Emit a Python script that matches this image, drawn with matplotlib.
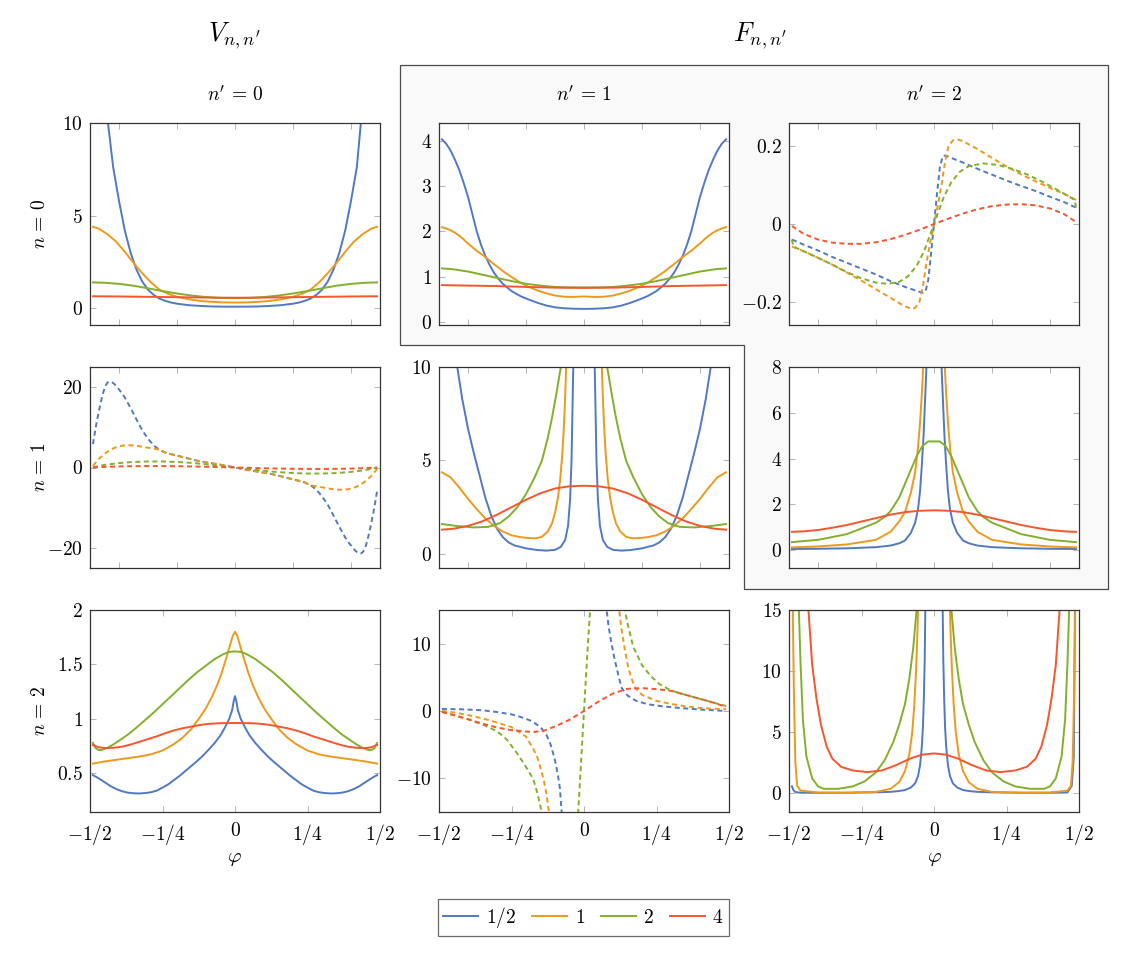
import matplotlib
matplotlib.use("Agg")
import matplotlib.pyplot as plt
import numpy as np
from matplotlib.patches import Polygon
from matplotlib.lines import Line2D

plt.rcParams["mathtext.fontset"] = "cm"
plt.rcParams["font.family"] = ["DejaVu Serif"]

nan = float("nan")

BLUE = "#5079c2"
ORANGE = "#eb9a1e"
GREEN = "#82b02c"
RED = "#f5562e"

# ---- row 0, col 0 : V, n=0, n'=0 (solid)
A_PHI_BLUE = [-0.46, -0.438, -0.42, -0.40, -0.38, -0.36, -0.34, -0.32, -0.30, -0.28, -0.26, -0.24, -0.22, -0.20, -0.16, -0.12, -0.08, -0.04, 0.0,
              0.04, 0.08, 0.12, 0.16, 0.20, 0.22, 0.24, 0.26, 0.28, 0.30, 0.32, 0.34, 0.36, 0.38, 0.40, 0.42, 0.434, 0.46]
A_BLUE = [14.0, 10.0, 7.6, 5.8, 4.2, 3.0, 2.1, 1.45, 1.0, 0.72, 0.52, 0.4, 0.31, 0.25, 0.17, 0.13, 0.1, 0.09, 0.09,
          0.09, 0.1, 0.13, 0.17, 0.25, 0.31, 0.4, 0.52, 0.72, 1.0, 1.45, 2.1, 3.0, 4.2, 5.8, 7.6, 10.0, 14.0]
A_PHI_ORANGE = [-0.49, -0.47, -0.44, -0.41, -0.38, -0.35, -0.32, -0.29, -0.26, -0.23, -0.20, -0.16, -0.12, -0.08, -0.04, 0.0,
                0.04, 0.08, 0.12, 0.16, 0.20, 0.23, 0.26, 0.29, 0.32, 0.35, 0.38, 0.41, 0.44, 0.47, 0.49]
A_ORANGE = [4.4, 4.3, 4.0, 3.6, 3.05, 2.45, 1.9, 1.4, 1.0, 0.78, 0.62, 0.49, 0.4, 0.35, 0.32, 0.31,
            0.32, 0.35, 0.4, 0.49, 0.62, 0.78, 1.0, 1.4, 1.9, 2.45, 3.05, 3.6, 4.0, 4.3, 4.4]
A_PHI_GREEN = [-0.49, -0.45, -0.4, -0.35, -0.3, -0.25, -0.2, -0.15, -0.1, -0.05, 0.0, 0.05, 0.1, 0.15, 0.2, 0.25, 0.3, 0.35, 0.4, 0.45, 0.49]
A_GREEN = [1.4, 1.38, 1.32, 1.22, 1.08, 0.93, 0.8, 0.69, 0.61, 0.56, 0.55, 0.56, 0.61, 0.69, 0.8, 0.93, 1.08, 1.22, 1.32, 1.38, 1.4]
A_PHI_RED = [-0.49, -0.4, -0.3, -0.2, -0.1, 0.0, 0.1, 0.2, 0.3, 0.4, 0.49]
A_RED = [0.65, 0.64, 0.62, 0.6, 0.58, 0.57, 0.58, 0.6, 0.62, 0.64, 0.65]

# ---- row 0, col 1 : F, n=0, n'=1 (solid)
B_PHI = [-0.49, -0.475, -0.46, -0.445, -0.43, -0.415, -0.40, -0.385, -0.37, -0.355, -0.34, -0.325, -0.31, -0.295, -0.28, -0.25,
         -0.22, -0.19, -0.16, -0.13, -0.10, -0.07, -0.04, 0.0, 0.04, 0.07, 0.10, 0.13, 0.16, 0.19, 0.22, 0.25, 0.28, 0.295,
         0.31, 0.325, 0.34, 0.355, 0.37, 0.385, 0.40, 0.415, 0.43, 0.445, 0.46, 0.475, 0.49]
B_BLUE = [4.03, 3.93, 3.78, 3.58, 3.35, 3.07, 2.76, 2.38, 2.0, 1.7, 1.45, 1.25, 1.08, 0.95, 0.84, 0.68,
          0.57, 0.49, 0.42, 0.36, 0.32, 0.3, 0.29, 0.285, 0.29, 0.3, 0.32, 0.36, 0.42, 0.49, 0.57, 0.68, 0.84, 0.95,
          1.08, 1.25, 1.45, 1.7, 2.0, 2.38, 2.76, 3.07, 3.35, 3.58, 3.78, 3.93, 4.03]
B_ORANGE = [2.09, 2.06, 2.02, 1.97, 1.9, 1.82, 1.73, 1.65, 1.57, 1.5, 1.43, 1.35, 1.27, 1.2, 1.12, 0.99,
            0.87, 0.77, 0.69, 0.63, 0.58, 0.555, 0.55, 0.56, 0.55, 0.555, 0.58, 0.63, 0.69, 0.77, 0.87, 0.99, 1.12, 1.2,
            1.27, 1.35, 1.43, 1.5, 1.57, 1.65, 1.73, 1.82, 1.9, 1.97, 2.02, 2.06, 2.09]
B_PHI_GREEN = [-0.49, -0.45, -0.4, -0.35, -0.3, -0.25, -0.2, -0.15, -0.1, -0.05, 0.0, 0.05, 0.1, 0.15, 0.2, 0.25, 0.3, 0.35, 0.4, 0.45, 0.49]
B_GREEN = [1.18, 1.16, 1.11, 1.04, 0.97, 0.9, 0.84, 0.8, 0.77, 0.76, 0.76, 0.76, 0.77, 0.8, 0.84, 0.9, 0.97, 1.04, 1.11, 1.16, 1.18]
B_PHI_RED = [-0.49, -0.4, -0.3, -0.2, -0.1, 0.0, 0.1, 0.2, 0.3, 0.4, 0.49]
B_RED = [0.81, 0.8, 0.79, 0.77, 0.755, 0.75, 0.755, 0.77, 0.79, 0.8, 0.81]

# ---- row 0, col 2 : F, n=0, n'=2 (dashed)
C_PHI_BLUE = [-0.49, -0.45, -0.4, -0.35, -0.3, -0.25, -0.2, -0.15, -0.1, -0.06, -0.04, -0.03, -0.02, -0.012, 0.0,
              0.012, 0.02, 0.03, 0.04, 0.06, 0.1, 0.15, 0.2, 0.25, 0.3, 0.35, 0.4, 0.45, 0.49]
C_BLUE = [-0.04, -0.053, -0.068, -0.085, -0.1, -0.115, -0.13, -0.147, -0.162, -0.172, -0.177, -0.175, -0.145, -0.09, 0.0,
          0.09, 0.145, 0.175, 0.176, 0.17, 0.158, 0.142, 0.127, 0.112, 0.098, 0.085, 0.07, 0.056, 0.042]
C_PHI_ORANGE = [-0.49, -0.45, -0.4, -0.35, -0.3, -0.25, -0.2, -0.15, -0.11, -0.08, -0.065, -0.05, -0.038, -0.028, -0.015, 0.0,
                0.015, 0.028, 0.038, 0.05, 0.065, 0.08, 0.1, 0.15, 0.2, 0.25, 0.3, 0.35, 0.4, 0.45, 0.49]
C_ORANGE = [-0.058, -0.07, -0.087, -0.105, -0.125, -0.146, -0.168, -0.19, -0.208, -0.218, -0.216, -0.2, -0.16, -0.11, -0.055, 0.0,
            0.055, 0.11, 0.16, 0.2, 0.215, 0.218, 0.213, 0.193, 0.17, 0.148, 0.128, 0.11, 0.093, 0.077, 0.062]
C_PHI_GREEN = [-0.49, -0.485, -0.45, -0.4, -0.35, -0.3, -0.25, -0.2, -0.16, -0.12, -0.09, -0.06, -0.034, 0.0,
               0.034, 0.06, 0.09, 0.12, 0.17, 0.22, 0.27, 0.32, 0.37, 0.42, 0.46, 0.485, 0.49]
C_GREEN = [-0.04, -0.058, -0.07, -0.087, -0.105, -0.124, -0.14, -0.151, -0.154, -0.149, -0.135, -0.108, -0.07, 0.0,
           0.07, 0.108, 0.135, 0.149, 0.156, 0.152, 0.142, 0.128, 0.11, 0.09, 0.073, 0.062, 0.042]
C_PHI_RED = [-0.49, -0.45, -0.4, -0.35, -0.3, -0.25, -0.2, -0.15, -0.1, -0.05, 0.0, 0.05, 0.1, 0.15, 0.2, 0.25, 0.3, 0.35, 0.4, 0.45, 0.49]
C_RED = [-0.005, -0.025, -0.04, -0.048, -0.051, -0.051, -0.047, -0.039, -0.028, -0.015, 0.0,
         0.014, 0.027, 0.038, 0.046, 0.05, 0.051, 0.048, 0.04, 0.025, 0.005]

# ---- row 1, col 0 : V, n=1, n'=0 (dashed)
D_PHI = [-0.49, -0.485, -0.477, -0.468, -0.46, -0.453, -0.446, -0.44, -0.433, -0.426, -0.418, -0.41, -0.40, -0.39, -0.38, -0.37,
         -0.36, -0.35, -0.34, -0.33, -0.32, -0.31, -0.30, -0.29, -0.28, -0.27, -0.26, -0.24, -0.22, -0.20, -0.17, -0.14, -0.11,
         -0.08, -0.05, -0.025, 0.0, 0.025, 0.05, 0.08, 0.11, 0.14, 0.17, 0.20, 0.22, 0.24, 0.26, 0.27, 0.28, 0.29, 0.30,
         0.31, 0.32, 0.33, 0.34, 0.35, 0.36, 0.37, 0.38, 0.39, 0.40, 0.41, 0.418, 0.426, 0.433, 0.44, 0.446, 0.453, 0.46,
         0.468, 0.477, 0.485, 0.49]
D_BLUE = [5.8, 8.0, 11.3, 14.5, 17.1, 19.0, 20.4, 21.1, 21.4, 21.3, 20.9, 20.3, 19.4, 18.5, 17.4, 16.1,
          14.8, 13.4, 12.0, 10.6, 9.3, 8.2, 7.2, 6.3, 5.5, 4.9, 4.4, 3.7, 3.3, 2.95, 2.4, 1.85, 1.4,
          1.05, 0.7, 0.35, 0.0, -0.35, -0.7, -1.05, -1.4, -1.85, -2.4, -2.95, -3.3, -3.7, -4.4, -4.9, -5.5, -6.3, -7.2,
          -8.2, -9.3, -10.6, -12.0, -13.4, -14.8, -16.1, -17.4, -18.5, -19.4, -20.3, -20.9, -21.3, -21.4, -21.1, -20.4, -19.0, -17.1,
          -14.5, -11.3, -8.0, -5.8]
D_PHI_ORANGE = [-0.49, -0.47, -0.45, -0.43, -0.41, -0.39, -0.37, -0.35, -0.33, -0.31, -0.29, -0.27, -0.26, -0.24, -0.22, -0.20,
                -0.17, -0.14, -0.11, -0.08, -0.05, -0.025, 0.0, 0.025, 0.05, 0.08, 0.11, 0.14, 0.17, 0.20, 0.22, 0.24, 0.26, 0.27,
                0.29, 0.31, 0.33, 0.35, 0.37, 0.39, 0.41, 0.43, 0.45, 0.47, 0.49]
D_ORANGE = [0.4, 2.1, 3.4, 4.4, 5.05, 5.4, 5.55, 5.5, 5.3, 5.05, 4.8, 4.55, 4.4, 3.7, 3.3, 2.95,
            2.4, 1.85, 1.4, 1.05, 0.7, 0.35, 0.0, -0.35, -0.7, -1.05, -1.4, -1.85, -2.4, -2.95, -3.3, -3.7, -4.4, -4.55,
            -4.8, -5.05, -5.3, -5.5, -5.55, -5.4, -5.05, -4.4, -3.4, -2.1, -0.4]
D_PHI_SMALL = [-0.49, -0.45, -0.4, -0.35, -0.3, -0.25, -0.2, -0.15, -0.1, -0.05, 0.0, 0.05, 0.1, 0.15, 0.2, 0.25, 0.3, 0.35, 0.4, 0.45, 0.49]
D_GREEN = [0.05, 0.65, 1.1, 1.38, 1.5, 1.5, 1.38, 1.15, 0.82, 0.42, 0.0, -0.42, -0.82, -1.15, -1.38, -1.5, -1.5, -1.38, -1.1, -0.65, -0.05]
D_RED = [0.0, 0.15, 0.27, 0.33, 0.36, 0.35, 0.32, 0.26, 0.18, 0.09, 0.0, -0.09, -0.18, -0.26, -0.32, -0.35, -0.36, -0.33, -0.27, -0.15, 0.0]

# ---- row 1, col 1 : F, n=1, n'=1 (solid)
E_PHI_BLUE = [-0.46, -0.437, -0.42, -0.4, -0.38, -0.36, -0.34, -0.32, -0.3, -0.28, -0.26, -0.24, -0.2, -0.16, -0.13, -0.1, -0.08, -0.065,
              -0.055, -0.048, -0.043, -0.04, -0.037, -0.034, 0.0, 0.034, 0.037, 0.04, 0.043, 0.048, 0.055, 0.065, 0.08, 0.1, 0.13,
              0.16, 0.2, 0.24, 0.26, 0.28, 0.3, 0.32, 0.34, 0.36, 0.38, 0.4, 0.42, 0.437, 0.46]
E_BLUE = [14.0, 10.0, 8.3, 6.7, 5.4, 4.2, 3.0, 2.05, 1.35, 0.9, 0.62, 0.46, 0.3, 0.21, 0.18, 0.22, 0.38, 0.75,
          1.5, 2.9, 5.0, 7.5, 10.0, 13.0, 60.0, 13.0, 10.0, 7.5, 5.0, 2.9, 1.5, 0.75, 0.38, 0.22, 0.18,
          0.21, 0.3, 0.46, 0.62, 0.9, 1.35, 2.05, 3.0, 4.2, 5.4, 6.7, 8.3, 10.0, 14.0]
E_PHI_ORANGE = [-0.49, -0.46, -0.43, -0.40, -0.37, -0.34, -0.31, -0.28, -0.25, -0.22, -0.19, -0.165, -0.145, -0.125, -0.11, -0.1,
                -0.09, -0.082, -0.075, -0.07, -0.066, -0.063, -0.06, 0.0, 0.06, 0.063, 0.066, 0.07, 0.075, 0.082, 0.09, 0.1, 0.11,
                0.125, 0.145, 0.165, 0.19, 0.22, 0.25, 0.28, 0.31, 0.34, 0.37, 0.40, 0.43, 0.46, 0.49]
E_ORANGE = [4.37, 4.1, 3.55, 2.95, 2.4, 1.9, 1.5, 1.2, 1.0, 0.9, 0.85, 0.84, 0.92, 1.2, 1.65, 2.2,
            3.0, 4.0, 5.3, 6.6, 8.0, 9.3, 10.8, 60.0, 10.8, 9.3, 8.0, 6.6, 5.3, 4.0, 3.0, 2.2, 1.65,
            1.2, 0.92, 0.84, 0.85, 0.9, 1.0, 1.2, 1.5, 1.9, 2.4, 2.95, 3.55, 4.1, 4.37]
E_PHI_GREEN = [-0.49, -0.44, -0.38, -0.33, -0.29, -0.26, -0.23, -0.2, -0.17, -0.145, -0.125, -0.11, -0.095, -0.08, -0.07, 0.0,
               0.07, 0.08, 0.095, 0.11, 0.125, 0.145, 0.17, 0.2, 0.23, 0.26, 0.29, 0.33, 0.38, 0.44, 0.49]
E_GREEN = [1.6, 1.5, 1.42, 1.45, 1.65, 2.0, 2.5, 3.2, 4.1, 5.0, 6.2, 7.3, 8.6, 10.0, 11.5, 60.0,
           11.5, 10.0, 8.6, 7.3, 6.2, 5.0, 4.1, 3.2, 2.5, 2.0, 1.65, 1.45, 1.42, 1.5, 1.6]
E_PHI_RED = [-0.49, -0.45, -0.4, -0.35, -0.3, -0.25, -0.2, -0.15, -0.1, -0.05, 0.0, 0.05, 0.1, 0.15, 0.2, 0.25, 0.3, 0.35, 0.4, 0.45, 0.49]
E_RED = [1.3, 1.35, 1.5, 1.75, 2.1, 2.5, 2.9, 3.25, 3.5, 3.62, 3.65, 3.62, 3.5, 3.25, 2.9, 2.5, 2.1, 1.75, 1.5, 1.35, 1.3]

# ---- row 1, col 2 : F, n=1, n'=2 (solid)
F_PHI_BLUE = [-0.49, -0.4, -0.3, -0.2, -0.15, -0.12, -0.1, -0.08, -0.065, -0.055, -0.048, -0.042, -0.036, -0.031, -0.027, -0.024, 0.0,
              0.024, 0.027, 0.031, 0.036, 0.042, 0.048, 0.055, 0.065, 0.08, 0.1, 0.12, 0.15, 0.2, 0.3, 0.4, 0.49]
F_BLUE = [0.05, 0.06, 0.08, 0.13, 0.2, 0.3, 0.42, 0.75, 1.2, 1.8, 2.6, 3.7, 5.0, 6.5, 7.7, 8.8, 40.0,
          8.8, 7.7, 6.5, 5.0, 3.7, 2.6, 1.8, 1.2, 0.75, 0.42, 0.3, 0.2, 0.13, 0.08, 0.06, 0.05]
F_PHI_ORANGE = [-0.49, -0.4, -0.3, -0.2, -0.15, -0.12, -0.1, -0.08, -0.065, -0.055, -0.048, -0.042, -0.038, -0.034, 0.0,
                0.034, 0.038, 0.042, 0.048, 0.055, 0.065, 0.08, 0.1, 0.12, 0.15, 0.2, 0.3, 0.4, 0.49]
F_ORANGE = [0.12, 0.16, 0.25, 0.45, 0.8, 1.25, 1.67, 2.5, 3.4, 4.5, 5.6, 6.8, 7.8, 9.0, 40.0,
            9.0, 7.8, 6.8, 5.6, 4.5, 3.4, 2.5, 1.67, 1.25, 0.8, 0.45, 0.25, 0.16, 0.12]
F_PHI_GREEN = [-0.49, -0.4, -0.3, -0.25, -0.2, -0.17, -0.15, -0.12, -0.1, -0.08, -0.06, -0.04, -0.02, 0.0,
               0.02, 0.04, 0.06, 0.08, 0.1, 0.12, 0.15, 0.17, 0.2, 0.25, 0.3, 0.4, 0.49]
F_GREEN = [0.35, 0.45, 0.7, 0.95, 1.2, 1.45, 1.7, 2.3, 2.9, 3.5, 4.1, 4.55, 4.75, 4.75,
           4.75, 4.55, 4.1, 3.5, 2.9, 2.3, 1.7, 1.45, 1.2, 0.95, 0.7, 0.45, 0.35]
F_PHI_RED = [-0.49, -0.45, -0.4, -0.35, -0.3, -0.25, -0.2, -0.15, -0.1, -0.05, 0.0, 0.05, 0.1, 0.15, 0.2, 0.25, 0.3, 0.35, 0.4, 0.45, 0.49]
F_RED = [0.8, 0.82, 0.88, 0.98, 1.1, 1.25, 1.4, 1.55, 1.66, 1.72, 1.74, 1.72, 1.66, 1.55, 1.4, 1.25, 1.1, 0.98, 0.88, 0.82, 0.8]

# ---- row 2, col 0 : V, n=2, n'=0 (solid)
G_PHI_BLUE = [-0.49, -0.47, -0.45, -0.43, -0.41, -0.39, -0.37, -0.35, -0.33, -0.31, -0.29, -0.27, -0.25, -0.23, -0.21, -0.19,
              -0.17, -0.15, -0.13, -0.11, -0.09, -0.07, -0.05, -0.035, -0.02, -0.01, -0.004, 0.0,
              0.004, 0.01, 0.02, 0.035, 0.05, 0.07, 0.09, 0.11, 0.13, 0.15, 0.17, 0.19, 0.21, 0.23, 0.25, 0.27,
              0.29, 0.31, 0.33, 0.35, 0.37, 0.39, 0.41, 0.43, 0.45, 0.47, 0.49]
G_BLUE = [0.485, 0.455, 0.42, 0.385, 0.357, 0.337, 0.324, 0.318, 0.316, 0.32, 0.327, 0.342, 0.37, 0.4, 0.44, 0.48,
          0.525, 0.57, 0.615, 0.665, 0.72, 0.78, 0.85, 0.92, 1.0, 1.08, 1.17, 1.21,
          1.17, 1.08, 1.0, 0.92, 0.85, 0.78, 0.72, 0.665, 0.615, 0.57, 0.525, 0.48, 0.44, 0.4, 0.37, 0.342,
          0.327, 0.32, 0.316, 0.318, 0.324, 0.337, 0.357, 0.385, 0.42, 0.455, 0.485]
G_PHI_ORANGE = [-0.49, -0.45, -0.41, -0.37, -0.33, -0.29, -0.25, -0.21, -0.18, -0.15, -0.12, -0.1, -0.08, -0.06, -0.045, -0.03,
                -0.018, -0.008, 0.0, 0.008, 0.018, 0.03, 0.045, 0.06, 0.08, 0.1, 0.12, 0.15, 0.18, 0.21, 0.25, 0.29,
                0.33, 0.37, 0.41, 0.45, 0.49]
G_ORANGE = [0.59, 0.61, 0.625, 0.64, 0.655, 0.675, 0.71, 0.77, 0.83, 0.91, 1.02, 1.1, 1.2, 1.32, 1.43, 1.56,
            1.67, 1.76, 1.8, 1.76, 1.67, 1.56, 1.43, 1.32, 1.2, 1.1, 1.02, 0.91, 0.83, 0.77, 0.71, 0.675,
            0.655, 0.64, 0.625, 0.61, 0.59]
G_PHI_GREEN = [-0.49, -0.48, -0.47, -0.46, -0.44, -0.42, -0.4, -0.37, -0.34, -0.31, -0.28, -0.25, -0.22, -0.19, -0.16, -0.13,
               -0.1, -0.07, -0.04, -0.02, 0.0, 0.02, 0.04, 0.07, 0.1, 0.13, 0.16, 0.19, 0.22, 0.25, 0.28, 0.31,
               0.34, 0.37, 0.4, 0.42, 0.44, 0.46, 0.47, 0.48, 0.49]
G_GREEN = [0.78, 0.73, 0.715, 0.715, 0.735, 0.765, 0.8, 0.855, 0.92, 0.99, 1.06, 1.135, 1.21, 1.285, 1.36, 1.43,
           1.49, 1.55, 1.595, 1.615, 1.62, 1.615, 1.595, 1.55, 1.49, 1.43, 1.36, 1.285, 1.21, 1.135, 1.06, 0.99,
           0.92, 0.855, 0.8, 0.765, 0.735, 0.715, 0.715, 0.73, 0.78]
G_PHI_RED = [-0.49, -0.47, -0.45, -0.42, -0.39, -0.36, -0.33, -0.3, -0.27, -0.24, -0.21, -0.18, -0.15, -0.12, -0.09, -0.06, -0.03, 0.0,
             0.03, 0.06, 0.09, 0.12, 0.15, 0.18, 0.21, 0.24, 0.27, 0.3, 0.33, 0.36, 0.39, 0.42, 0.45, 0.47, 0.49]
G_RED = [0.76, 0.74, 0.733, 0.735, 0.745, 0.765, 0.79, 0.815, 0.84, 0.87, 0.895, 0.915, 0.93, 0.945, 0.955, 0.96, 0.962, 0.963,
         0.962, 0.96, 0.955, 0.945, 0.93, 0.915, 0.895, 0.87, 0.84, 0.815, 0.79, 0.765, 0.745, 0.735, 0.733, 0.74, 0.76]

# ---- row 2, col 1 : F, n=2, n'=1 (dashed)
H_PHI_BLUE = [-0.49, -0.42, -0.35, -0.3, -0.25, -0.21, -0.18, -0.15, -0.13, -0.115, -0.1, -0.09, -0.083, -0.077, -0.06, 0.0,
              0.06, 0.078, 0.085, 0.095, 0.105, 0.118, 0.13, 0.15, 0.18, 0.22, 0.27, 0.33, 0.39, 0.45, 0.49]
H_BLUE = [0.3, 0.25, 0.1, -0.15, -0.5, -1.0, -1.5, -2.4, -3.5, -5.0, -7.3, -9.5, -11.5, -15.0, -30.0, nan,
          30.0, 15.0, 12.5, 10.0, 7.8, 5.4, 3.4, 2.3, 1.5, 1.0, 0.7, 0.45, 0.25, 0.1, 0.0]
H_PHI_ORANGE = [-0.49, -0.45, -0.4, -0.35, -0.3, -0.25, -0.2, -0.175, -0.16, -0.14, -0.13, -0.121, -0.1, 0.0,
                0.1, 0.121, 0.13, 0.14, 0.15, 0.16, 0.175, 0.2, 0.25, 0.3, 0.35, 0.4, 0.45, 0.49]
H_ORANGE = [0.0, -0.2, -0.6, -1.1, -1.7, -2.4, -3.8, -5.6, -7.0, -10.0, -12.2, -15.0, -30.0, nan,
            30.0, 15.0, 12.0, 9.3, 7.0, 5.3, 3.5, 2.4, 1.5, 1.05, 0.7, 0.45, 0.32, 0.25]
H_PHI_GREEN = [-0.49, -0.45, -0.4, -0.35, -0.3, -0.267, -0.232, -0.2, -0.175, -0.16, -0.146, -0.1, -0.02, -0.01, 0.0,
               0.01, 0.021, 0.1, 0.141, 0.15, 0.17, 0.2, 0.23, 0.26, 0.3, 0.35, 0.4, 0.45, 0.49]
H_GREEN = [-0.15, -0.6, -1.25, -2.0, -3.0, -4.2, -6.2, -8.3, -10.1, -12.3, -15.0, -40.0, -15.0, -7.5, 0.0,
           7.5, 15.0, 40.0, 15.0, 13.0, 9.5, 6.8, 5.2, 4.0, 3.05, 2.4, 1.8, 1.2, 0.74]
H_PHI_RED = [-0.49, -0.45, -0.4, -0.35, -0.3, -0.25, -0.2, -0.17, -0.14, -0.1, -0.05, 0.0,
             0.05, 0.1, 0.15, 0.2, 0.25, 0.3, 0.35, 0.4, 0.45, 0.49]
H_RED = [-0.15, -0.6, -1.2, -1.9, -2.45, -2.85, -3.05, -3.1, -2.95, -2.3, -1.3, 0.0,
         1.4, 2.6, 3.3, 3.4, 3.25, 3.0, 2.4, 1.8, 1.2, 0.6]

# ---- row 2, col 2 : F, n=2, n'=2 (solid)
I_PHI_BLUE = [-0.49, -0.485, -0.478, -0.46, -0.4, -0.3, -0.2, -0.15, -0.12, -0.1, -0.08, -0.065, -0.055, -0.048, -0.042, -0.038,
              -0.035, -0.032, -0.03, -0.025, 0.0, 0.025, 0.03, 0.032, 0.035, 0.038, 0.042, 0.048, 0.055, 0.065, 0.08, 0.1,
              0.12, 0.15, 0.2, 0.3, 0.4, 0.46, 0.475, 0.482, 0.486, 0.49]
I_BLUE = [0.55, 0.25, 0.08, 0.03, 0.02, 0.03, 0.06, 0.1, 0.17, 0.25, 0.45, 0.8, 1.4, 2.3, 3.8, 5.5,
          7.8, 11.0, 15.0, 25.0, 60.0, 25.0, 15.0, 11.0, 7.8, 5.5, 3.8, 2.3, 1.4, 0.8, 0.45, 0.25,
          0.17, 0.1, 0.06, 0.03, 0.02, 0.05, 0.6, 3.0, 15.0, 30.0]
I_PHI_ORANGE = [-0.49, -0.487, -0.483, -0.478, -0.472, -0.46, -0.4, -0.3, -0.2, -0.15, -0.12, -0.1, -0.085, -0.075, -0.068, -0.062,
                -0.058, -0.055, 0.0, 0.055, 0.058, 0.062, 0.068, 0.075, 0.085, 0.1, 0.12, 0.15, 0.2, 0.3, 0.4, 0.46,
                0.472, 0.478, 0.483, 0.487, 0.49]
I_ORANGE = [20.0, 15.0, 8.0, 2.5, 0.6, 0.2, 0.05, 0.03, 0.1, 0.35, 0.9, 1.8, 3.2, 5.0, 7.2, 10.0,
            12.5, 15.0, 60.0, 15.0, 12.5, 10.0, 7.2, 5.0, 3.2, 1.8, 0.9, 0.35, 0.1, 0.03, 0.05, 0.2,
            0.6, 2.5, 8.0, 15.0, 20.0]
I_PHI_GREEN = [-0.49, -0.466, -0.46, -0.452, -0.44, -0.42, -0.4, -0.38, -0.33, -0.28, -0.24, -0.2, -0.17, -0.14, -0.12, -0.1,
               -0.085, -0.072, -0.06, 0.0, 0.06, 0.072, 0.085, 0.1, 0.12, 0.14, 0.17, 0.2, 0.24, 0.28, 0.33, 0.38,
               0.4, 0.42, 0.44, 0.452, 0.46, 0.466, 0.49]
I_GREEN = [40.0, 15.0, 10.5, 6.0, 3.0, 1.2, 0.55, 0.35, 0.35, 0.55, 0.95, 1.7, 2.7, 4.2, 5.6, 7.3,
           9.4, 11.8, 15.0, 60.0, 15.0, 11.8, 9.4, 7.3, 5.6, 4.2, 2.7, 1.7, 0.95, 0.55, 0.35, 0.35,
           0.55, 1.2, 3.0, 6.0, 10.5, 15.0, 40.0]
I_PHI_RED = [-0.46, -0.433, -0.42, -0.405, -0.39, -0.37, -0.35, -0.32, -0.28, -0.23, -0.18, -0.13, -0.08, -0.04, 0.0,
             0.04, 0.08, 0.13, 0.18, 0.23, 0.28, 0.32, 0.35, 0.37, 0.39, 0.405, 0.42, 0.433, 0.46]
I_RED = [30.0, 15.0, 10.5, 7.7, 5.6, 3.8, 2.8, 2.15, 1.85, 1.72, 1.85, 2.3, 2.85, 3.15, 3.25,
         3.15, 2.85, 2.3, 1.85, 1.72, 1.85, 2.15, 2.8, 3.8, 5.6, 7.7, 10.5, 15.0, 30.0]

LEGEND_LABELS = ["$1/2$", "$1$", "$2$", "$4$"]
COLORS = [BLUE, ORANGE, GREEN, RED]

PANELS = [
    # (row, col, curves, dashed, ylim, yticks, yticklabels)
    (0, 0, [(A_PHI_BLUE, A_BLUE), (A_PHI_ORANGE, A_ORANGE), (A_PHI_GREEN, A_GREEN), (A_PHI_RED, A_RED)], False,
     (-0.9, 10), [0, 5, 10], ["$0$", "$5$", "$10$"]),
    (0, 1, [(B_PHI, B_BLUE), (B_PHI, B_ORANGE), (B_PHI_GREEN, B_GREEN), (B_PHI_RED, B_RED)], False,
     (-0.07, 4.39), [0, 1, 2, 3, 4], ["$0$", "$1$", "$2$", "$3$", "$4$"]),
    (0, 2, [(C_PHI_BLUE, C_BLUE), (C_PHI_ORANGE, C_ORANGE), (C_PHI_GREEN, C_GREEN), (C_PHI_RED, C_RED)], True,
     (-0.26, 0.26), [-0.2, 0, 0.2], ["$-0.2$", "$0$", "$0.2$"]),
    (1, 0, [(D_PHI, D_BLUE), (D_PHI_ORANGE, D_ORANGE), (D_PHI_SMALL, D_GREEN), (D_PHI_SMALL, D_RED)], True,
     (-25, 25), [-20, 0, 20], ["$-20$", "$0$", "$20$"]),
    (1, 1, [(E_PHI_BLUE, E_BLUE), (E_PHI_ORANGE, E_ORANGE), (E_PHI_GREEN, E_GREEN), (E_PHI_RED, E_RED)], False,
     (-0.75, 10), [0, 5, 10], ["$0$", "$5$", "$10$"]),
    (1, 2, [(F_PHI_BLUE, F_BLUE), (F_PHI_ORANGE, F_ORANGE), (F_PHI_GREEN, F_GREEN), (F_PHI_RED, F_RED)], False,
     (-0.78, 8), [0, 2, 4, 6, 8], ["$0$", "$2$", "$4$", "$6$", "$8$"]),
    (2, 0, [(G_PHI_BLUE, G_BLUE), (G_PHI_ORANGE, G_ORANGE), (G_PHI_GREEN, G_GREEN), (G_PHI_RED, G_RED)], False,
     (0.146, 2), [0.5, 1, 1.5, 2], ["$0.5$", "$1$", "$1.5$", "$2$"]),
    (2, 1, [(H_PHI_BLUE, H_BLUE), (H_PHI_ORANGE, H_ORANGE), (H_PHI_GREEN, H_GREEN), (H_PHI_RED, H_RED)], True,
     (-15, 15), [-10, 0, 10], ["$-10$", "$0$", "$10$"]),
    (2, 2, [(I_PHI_BLUE, I_BLUE), (I_PHI_ORANGE, I_ORANGE), (I_PHI_GREEN, I_GREEN), (I_PHI_RED, I_RED)], False,
     (-1.55, 15), [0, 5, 10, 15], ["$0$", "$5$", "$10$", "$15$"]),
]

W, H = 1121, 957
COL_LEFT = [90, 439, 789]
AX_W = 290
ROW_TB = [(123, 325), (367, 568), (610, 812)]

fig = plt.figure(figsize=(W / 100, H / 100), dpi=100)

# light grey box behind the F panels
box_px = [(400, 65), (1108, 65), (1108, 589), (744, 589), (744, 345), (400, 345)]
box = Polygon([(x / W, 1 - y / H) for x, y in box_px], closed=True, transform=fig.transFigure,
              facecolor="#f9f9f9", edgecolor="#4a4a4a", linewidth=0.9, zorder=-1)
fig.add_artist(box)

FS = 14

for row, col, curves, dashed, ylim, yticks, yticklabels in PANELS:
    top, bot = ROW_TB[row]
    ax = fig.add_axes([COL_LEFT[col] / W, 1 - bot / H, AX_W / W, (bot - top) / H])
    for (phi, vals), c in zip(curves, COLORS):
        ls = (0, (2.6, 1.8)) if dashed else "-"
        ax.plot(phi, vals, color=c, lw=1.4, ls=ls)
    ax.set_xlim(-0.5, 0.5)
    ax.set_ylim(*ylim)
    ax.set_yticks(yticks)
    ax.set_yticklabels(yticklabels)
    if row == 2:
        ax.set_xticks([-0.5, -0.25, 0, 0.25, 0.5])
        ax.set_xticklabels(["$-1/2$", "$-1/4$", "$0$", "$1/4$", "$1/2$"])
    else:
        ax.set_xticks([-0.4, -0.2, 0, 0.2, 0.4])
        ax.set_xticklabels([])
    ax.tick_params(direction="in", length=4, width=0.6, color="#a8a8a8", top=True, right=True,
                   labelsize=FS, pad=5, labelcolor="black")
    ax.tick_params(axis="x", pad=7)
    for s in ax.spines.values():
        s.set_color("#333333")
        s.set_linewidth(0.9)

# headers
fig.text(234 / W, 1 - 36 / H, "$V_{n,n'}$", ha="center", va="center", fontsize=19)
fig.text(760 / W, 1 - 36 / H, "$F_{n,n'}$", ha="center", va="center", fontsize=19)
for col, lab in enumerate([r"$n'\,=\,0$", r"$n'\,=\,1$", r"$n'\,=\,2$"]):
    fig.text((COL_LEFT[col] + AX_W / 2) / W, 1 - 95 / H, lab, ha="center", va="center", fontsize=14)
for row, lab in enumerate([r"$n\,=\,0$", r"$n\,=\,1$", r"$n\,=\,2$"]):
    top, bot = ROW_TB[row]
    fig.text(40 / W, 1 - (top + bot) / 2 / H, lab, ha="center", va="center", rotation=90, fontsize=14)
fig.text(234 / W, 1 - 858 / H, r"$\varphi$", ha="center", va="center", fontsize=15)
fig.text(934 / W, 1 - 858 / H, r"$\varphi$", ha="center", va="center", fontsize=15)

handles = [Line2D([0], [0], color=c, lw=1.4) for c in COLORS]
leg = fig.legend(handles, LEGEND_LABELS, loc="center", bbox_to_anchor=(583.5 / W, 1 - 917.5 / H), ncol=4,
                 frameon=True, fancybox=False, edgecolor="#444444", fontsize=FS, handlelength=1.8,
                 columnspacing=0.8, handletextpad=0.4, borderpad=0.3, borderaxespad=0.0)
leg.get_frame().set_linewidth(0.9)

fig.savefig("out.png", dpi=100)
